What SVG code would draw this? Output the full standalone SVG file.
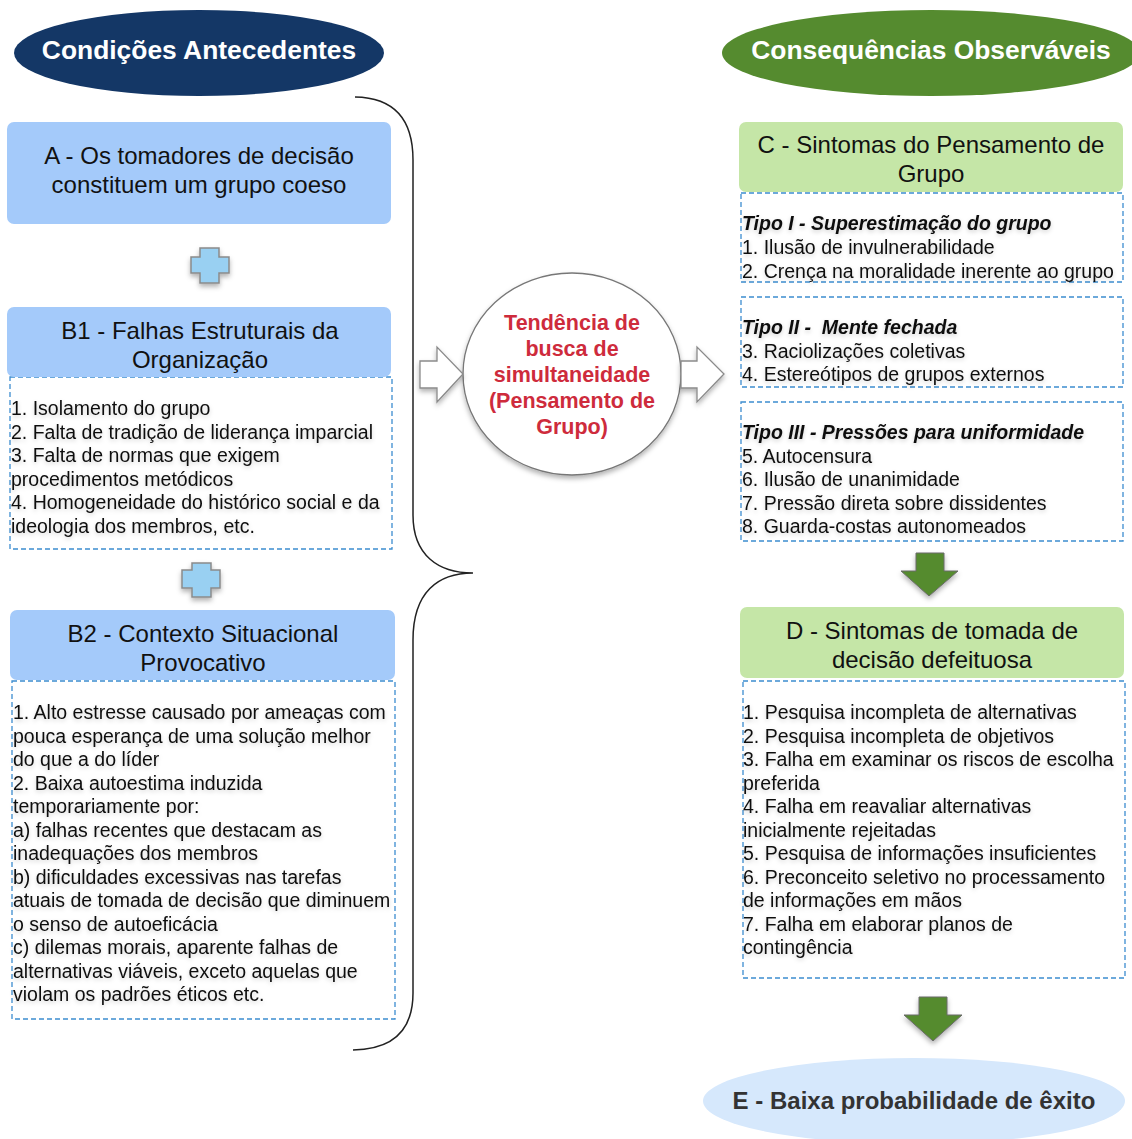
<svg xmlns="http://www.w3.org/2000/svg" width="1132" height="1139" viewBox="0 0 1132 1139">
<defs>
<filter id="sh" x="-20%" y="-20%" width="140%" height="150%">
<feDropShadow dx="0" dy="3" stdDeviation="2.5" flood-color="#000" flood-opacity="0.3"/>
</filter>
<filter id="tsh" x="-5%" y="-20%" width="110%" height="160%">
<feDropShadow dx="0" dy="2" stdDeviation="2" flood-color="#000" flood-opacity="0.18"/>
</filter>
</defs>
<style>
.hdr{font-family:"Liberation Sans",Arial,sans-serif;font-size:26.4px;font-weight:bold;fill:#fff;text-anchor:middle}
.box{font-family:"Liberation Sans",Arial,sans-serif;font-size:24px;fill:#111;text-anchor:middle}
.lst{font-family:"Liberation Sans",Arial,sans-serif;font-size:19.5px;fill:#111}
.bi{font-weight:bold;font-style:italic}
.blue{fill:#A4CAFA}
.green{fill:#C5E6A7}
.dash{fill:#fff;stroke:#3C8DD0;stroke-width:1.3;stroke-dasharray:5 3}
.plus{fill:#99D0F2;stroke:#8a8a8a;stroke-width:1.5}
.garr{fill:#558B2F;stroke:#6b6b6b;stroke-width:1}
.warr{fill:#fff;stroke:#8a8a8a;stroke-width:1.3}
.brace{fill:none;stroke:#222;stroke-width:1.5}
</style>
<rect width="1132" height="1139" fill="#fff"/>

<g id="title-left">
<ellipse cx="199" cy="53" rx="185" ry="43" fill="#143766"/>
<text class="hdr" x="199" y="59">Condições Antecedentes</text>
</g>

<g id="title-right">
<ellipse cx="931" cy="53" rx="209" ry="43" fill="#558B2F"/>
<text class="hdr" x="931" y="59">Consequências Observáveis</text>
</g>

<g id="node-A">
<rect class="blue" x="7" y="122" width="384" height="102" rx="7"/>
<text class="box" x="199" y="164">A - Os tomadores de decisão</text>
<text class="box" x="199" y="193">constituem um grupo coeso</text>
</g>

<g id="plus-1">
<path class="plus" filter="url(#sh)" d="M200,248 H219 V257 H229 V273 H219 V283 H200 V273 H191 V257 H200 Z"/>
</g>

<g id="node-B1">
<rect class="dash" x="10" y="377" width="382" height="172"/>
<rect class="blue" x="7" y="307" width="384" height="70" rx="7"/>
<text class="box" x="200" y="339">B1 - Falhas Estruturais da</text>
<text class="box" x="200" y="368">Organização</text>
<g class="lst" filter="url(#tsh)">
<text x="11" y="415">1. Isolamento do grupo</text>
<text x="11" y="438.5">2. Falta de tradição de liderança imparcial</text>
<text x="11" y="462">3. Falta de normas que exigem</text>
<text x="11" y="485.5">procedimentos metódicos</text>
<text x="11" y="509">4. Homogeneidade do histórico social e da</text>
<text x="11" y="532.5">ideologia dos membros, etc.</text>
</g>
</g>

<g id="plus-2">
<path class="plus" filter="url(#sh)" d="M192,563 H211 V570 H220 V588 H211 V597 H192 V588 H182 V570 H192 Z"/>
</g>

<g id="node-B2">
<rect class="dash" x="12" y="681" width="383" height="338"/>
<rect class="blue" x="10" y="610" width="385" height="70" rx="7"/>
<text class="box" x="203" y="642">B2 - Contexto Situacional</text>
<text class="box" x="203" y="671">Provocativo</text>
<g class="lst" filter="url(#tsh)">
<text x="13" y="719">1. Alto estresse causado por ameaças com</text>
<text x="13" y="742.5">pouca esperança de uma solução melhor</text>
<text x="13" y="766">do que a do líder</text>
<text x="13" y="789.5">2. Baixa autoestima induzida</text>
<text x="13" y="813">temporariamente por:</text>
<text x="13" y="836.5">a) falhas recentes que destacam as</text>
<text x="13" y="860">inadequações dos membros</text>
<text x="13" y="883.5">b) dificuldades excessivas nas tarefas</text>
<text x="13" y="907">atuais de tomada de decisão que diminuem</text>
<text x="13" y="930.5">o senso de autoeficácia</text>
<text x="13" y="954">c) dilemas morais, aparente falhas de</text>
<text x="13" y="977.5">alternativas viáveis, exceto aquelas que</text>
<text x="13" y="1001">violam os padrões éticos etc.</text>
</g>
</g>

<g id="node-center">
<ellipse cx="572" cy="374" rx="109" ry="101" fill="#fff" stroke="#777" stroke-width="1.3" filter="url(#sh)"/>
<g font-family="'Liberation Sans',Arial,sans-serif" font-size="21.5" font-weight="bold" fill="#CE2B3C" text-anchor="middle">
<text x="572" y="330">Tendência de</text>
<text x="572" y="356">busca de</text>
<text x="572" y="382">simultaneidade</text>
<text x="572" y="408">(Pensamento de</text>
<text x="572" y="434">Grupo)</text>
</g>
</g>

<g id="node-C">
<rect class="green" x="739" y="122" width="384" height="70" rx="7"/>
<text class="box" x="931" y="153">C - Sintomas do Pensamento de</text>
<text class="box" x="931" y="182">Grupo</text>
</g>

<g id="node-C-tipo1">
<rect class="dash" x="741" y="193" width="382" height="89"/>
<g class="lst" filter="url(#tsh)">
<text class="bi" x="742" y="230">Tipo I - Superestimação do grupo</text>
<text x="742" y="254">1. Ilusão de invulnerabilidade</text>
<text x="742" y="277.5">2. Crença na moralidade inerente ao grupo</text>
</g>
</g>

<g id="node-C-tipo2">
<rect class="dash" x="741" y="297" width="382" height="90"/>
<g class="lst" filter="url(#tsh)">
<text class="bi" x="742" y="334" xml:space="preserve">Tipo II -  Mente fechada</text>
<text x="742" y="357.5">3. Raciolizações coletivas</text>
<text x="742" y="381">4. Estereótipos de grupos externos</text>
</g>
</g>

<g id="node-C-tipo3">
<rect class="dash" x="741" y="402" width="382" height="139"/>
<g class="lst" filter="url(#tsh)">
<text class="bi" x="742" y="439">Tipo III - Pressões para uniformidade</text>
<text x="742" y="462.5">5. Autocensura</text>
<text x="742" y="486">6. Ilusão de unanimidade</text>
<text x="742" y="509.5">7. Pressão direta sobre dissidentes</text>
<text x="742" y="533">8. Guarda-costas autonomeados</text>
</g>
</g>

<g id="node-D">
<rect class="dash" x="743" y="681" width="382" height="297"/>
<rect class="green" x="740" y="607" width="384" height="71" rx="7"/>
<text class="box" x="932" y="639">D - Sintomas de tomada de</text>
<text class="box" x="932" y="668">decisão defeituosa</text>
<g class="lst" filter="url(#tsh)">
<text x="743" y="719">1. Pesquisa incompleta de alternativas</text>
<text x="743" y="742.5">2. Pesquisa incompleta de objetivos</text>
<text x="743" y="766">3. Falha em examinar os riscos de escolha</text>
<text x="743" y="789.5">preferida</text>
<text x="743" y="813">4. Falha em reavaliar alternativas</text>
<text x="743" y="836.5">inicialmente rejeitadas</text>
<text x="743" y="860">5. Pesquisa de informações insuficientes</text>
<text x="743" y="883.5">6. Preconceito seletivo no processamento</text>
<text x="743" y="907">de informações em mãos</text>
<text x="743" y="930.5">7. Falha em elaborar planos de</text>
<text x="743" y="954">contingência</text>
</g>
</g>

<g id="node-E">
<ellipse cx="914" cy="1101" rx="211" ry="43" fill="#D6E8FC"/>
<text x="914" y="1109" font-family="'Liberation Sans',Arial,sans-serif" font-size="24" font-weight="bold" fill="#333" text-anchor="middle">E - Baixa probabilidade de êxito</text>
</g>

<g id="connectors">
<path class="brace" d="M355,97 Q413,98 413,160 L413,515 C413,555 438,573 473,573 C438,573 413,592 413,640 L413,993 Q413,1049 353,1050"/>
<path class="warr" filter="url(#sh)" d="M420,361 H437 V347 L463,374 L437,402 V388 H420 Z"/>
<path class="warr" filter="url(#sh)" d="M681,361 H697 V347 L724,374 L697,402 V388 H681 Z"/>
<path class="garr" filter="url(#sh)" d="M916,553 H944 V571 H958 L929,596 L901,571 H916 Z"/>
<path class="garr" filter="url(#sh)" d="M919,997 H947 V1015 H962 L933,1041 L904,1015 H919 Z"/>
</g>
</svg>
